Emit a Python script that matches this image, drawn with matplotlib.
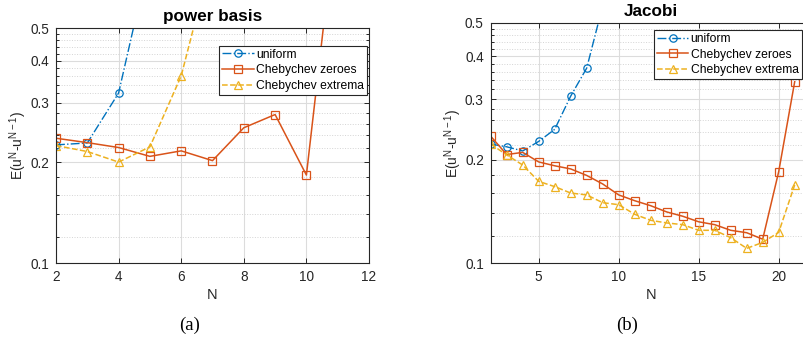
import matplotlib
matplotlib.use("Agg")
import matplotlib.pyplot as plt
import numpy as np
from matplotlib.ticker import FixedLocator, FixedFormatter, NullFormatter

plt.rcParams["font.family"] = ["Liberation Sans", "DejaVu Sans"]
plt.rcParams["mathtext.fontset"] = "custom"
plt.rcParams["mathtext.rm"] = "Liberation Sans"
plt.rcParams["mathtext.it"] = "Liberation Sans"

# panel (a): power basis
n_pow_uniform = [2, 3, 4, 5]
e_pow_uniform = [0.225, 0.228, 0.321, 0.82]
n_pow_zeroes = [2, 3, 4, 5, 6, 7, 8, 9, 10, 11]
e_pow_zeroes = [0.2355, 0.2285, 0.221, 0.208, 0.216, 0.202, 0.253, 0.277, 0.183, 1.18]
n_pow_extrema = [2, 3, 4, 5, 6, 7]
e_pow_extrema = [0.224, 0.215, 0.200, 0.222, 0.361, 0.83]

# panel (b): Jacobi
n_jac_uniform = [2, 3, 4, 5, 6, 7, 8, 9]
e_jac_uniform = [0.222, 0.218, 0.212, 0.226, 0.245, 0.306, 0.369, 0.56]
n_jac = list(range(2, 22))
e_jac_zeroes = [0.234, 0.207, 0.210, 0.197, 0.192, 0.188, 0.180, 0.170, 0.158, 0.152,
                0.147, 0.141, 0.137, 0.132, 0.1295, 0.1247, 0.1227, 0.1175, 0.1846, 0.337]
e_jac_extrema = [0.222, 0.2065, 0.193, 0.173, 0.167, 0.160, 0.158, 0.150, 0.148, 0.1388,
                 0.1333, 0.131, 0.1295, 0.1247, 0.1247, 0.1187, 0.1105, 0.115, 0.123, 0.169]

labels = ["uniform", "Chebychev zeroes", "Chebychev extrema"]
y_major = [0.1, 0.2, 0.3, 0.4, 0.5]
y_major_labels = ["0.1", "0.2", "0.3", "0.4", "0.5"]

C_BLUE = "#0072BD"
C_RED = "#D95319"
C_YEL = "#EDB120"
AX_COL = "#262626"

W, H = 804, 339
fig = plt.figure(figsize=(W / 100, H / 100), dpi=100)


def px_rect(x0, y0, x1, y1):
    return [x0 / W, 1 - y1 / H, (x1 - x0) / W, (y1 - y0) / H]


def style_axes(ax, xlim, xticks, title):
    ax.set_yscale("log")
    ax.set_ylim(0.1, 0.5)
    ax.set_xlim(*xlim)
    ax.set_xticks(xticks)
    ax.yaxis.set_major_locator(FixedLocator(y_major))
    ax.yaxis.set_major_formatter(FixedFormatter(y_major_labels))
    minors = [v for v in np.round(np.arange(0.12, 0.5, 0.02), 2) if v not in y_major]
    ax.yaxis.set_minor_locator(FixedLocator(minors))
    ax.yaxis.set_minor_formatter(NullFormatter())
    ax.grid(True, which="major", color="#dcdcdc", lw=0.8, ls="-")
    ax.grid(True, which="minor", axis="y", color="#d4d4d4", lw=0.7, ls=":")
    ax.set_axisbelow(True)
    ax.tick_params(which="both", direction="in", top=True, right=True,
                   colors=AX_COL, labelsize=9.8, width=0.7)
    ax.tick_params(which="major", length=3.5, pad=5)
    ax.tick_params(which="minor", length=2)
    for sp in ax.spines.values():
        sp.set_color(AX_COL)
        sp.set_linewidth(0.8)
    ax.set_xlabel("N", fontsize=10.5, color=AX_COL, labelpad=3)
    ax.set_ylabel(r"E(u$^{\mathrm{N}}$-u$^{\mathrm{N-1}}$)", fontsize=10, color=AX_COL, labelpad=0.5)
    ax.set_title(title, fontsize=12.3, fontweight="bold", pad=5)


def draw(ax, series, leg_anchor):
    mk = dict(markersize=5.3, markerfacecolor="none", markeredgewidth=0.9)
    (nu, eu), (nz, ez), (ne, ee) = series
    ax.plot(nu, eu, "-.o", color=C_BLUE, lw=1.0, label=labels[0], **mk)
    ax.plot(nz, ez, "-s", color=C_RED, lw=1.1, label=labels[1], **mk)
    ax.plot(ne, ee, "--^", color=C_YEL, lw=1.1, label=labels[2], **mk)
    leg = ax.legend(loc="upper right", bbox_to_anchor=(leg_anchor[0] / W, 1 - leg_anchor[1] / H),
                    bbox_transform=fig.transFigure, borderaxespad=0, fontsize=8.7,
                    fancybox=False, framealpha=1, edgecolor=AX_COL, handlelength=2.6,
                    handletextpad=0.2, labelspacing=0.3, borderpad=0.25)
    leg.get_frame().set_linewidth(0.8)


ax_a = fig.add_axes(px_rect(56, 28.3, 369, 263.3))
style_axes(ax_a, (2, 12), [2, 4, 6, 8, 10, 12], "power basis")
draw(ax_a, [(n_pow_uniform, e_pow_uniform), (n_pow_zeroes, e_pow_zeroes),
            (n_pow_extrema, e_pow_extrema)], (367.3, 45.7))

ax_b = fig.add_axes(px_rect(490.7, 22.7, 810.7, 263.3))
style_axes(ax_b, (2, 22), [5, 10, 15, 20], "Jacobi")
draw(ax_b, [(n_jac_uniform, e_jac_uniform), (n_jac, e_jac_zeroes),
            (n_jac, e_jac_extrema)], (801.7, 30))

fig.text(189.7 / W, 1 - 325 / H, "(a)", ha="center", va="center",
         family="Liberation Serif", fontsize=13.5)
fig.text(626.7 / W, 1 - 325 / H, "(b)", ha="center", va="center",
         family="Liberation Serif", fontsize=13.5)

fig.savefig("out.png", dpi=100)
